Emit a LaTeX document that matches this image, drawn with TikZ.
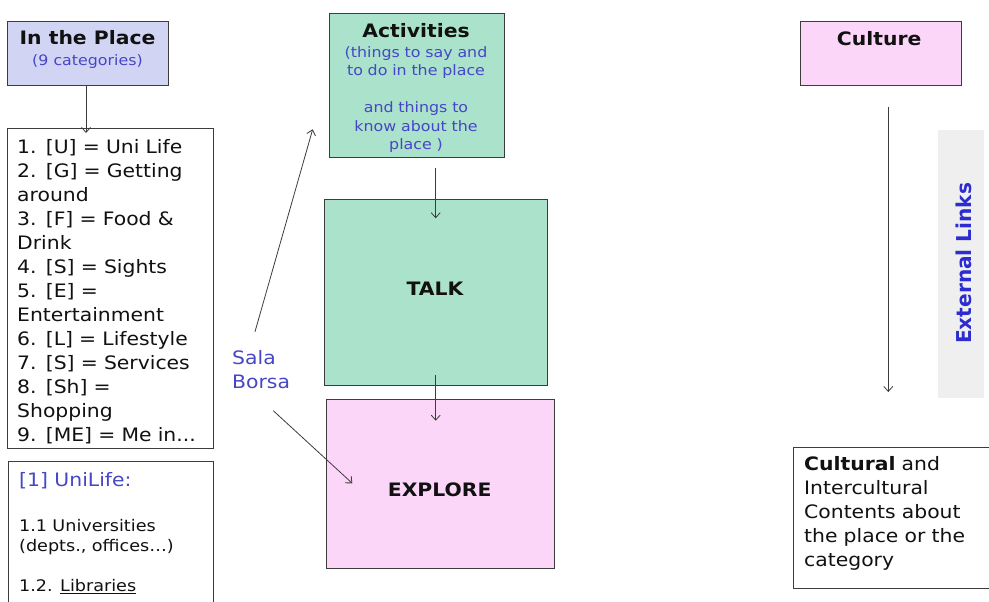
\documentclass[tikz,border=0pt]{standalone}
\usepackage{fontspec}
\setmainfont{DejaVu Sans}[FakeStretch=1.1]
\usetikzlibrary{arrows.meta}

\definecolor{lavfill}{HTML}{D2D4F4}
\definecolor{greenfill}{HTML}{AAE2CB}
\definecolor{pinkfill}{HTML}{FCD6F8}
\definecolor{bandfill}{HTML}{EFEFEF}
\definecolor{edgegray}{HTML}{3C3C3C}
\definecolor{noteblue}{HTML}{4646C6}
\definecolor{linkblue}{HTML}{2C2CD0}
\definecolor{inkblack}{HTML}{111111}

\newcommand\fsmain{\fontsize{18.5}{24.03}\selectfont}
\newcommand\fsnote{\fontsize{14.4}{18.5}\selectfont}
\newcommand\fssub{\fontsize{16}{20}\selectfont}

\tikzset{
  panel/.style={draw=edgegray, line width=1pt, inner sep=0pt, rectangle},
  label/.style={inner sep=0pt, text=inkblack, font=\fsmain},
  title/.style={label, font=\fsmain\bfseries, anchor=base},
  note/.style={inner sep=0pt, text=noteblue, font=\fsnote},
  flow/.style={draw=edgegray, line width=0.8pt, -{Straight Barb[length=5pt,width=9pt]}}
}

\begin{document}
\begin{tikzpicture}[x=1pt, y=-1pt]
\useasboundingbox (0,0) rectangle (989,602);
\clip (0,0) rectangle (989,602);
\fill[white] (0,0) rectangle (989,602);

% ---- left column: places and categories ----
\node[panel, fill=lavfill, minimum width=160.8pt, minimum height=64.3pt] (inplace) at (87.9,53.85) {};
\node[title] (inplacetitle) at (87.5,45) {In the Place};
\node[note, anchor=base] (inplacesub) at (87.5,65.7) {(9 categories)};

\node[panel, fill=white, minimum width=205.5pt, minimum height=320pt] (catlist) at (110.25,288.3) {};
\node[label, anchor=base west, text width=195pt, align=left] (catlisttext) at (17,153.3)
  {1. [U] = Uni Life\\
   2. [G] = Getting\\
   around\\
   3. [F] = Food \&\\
   Drink\\
   4. [S] = Sights\\
   5. [E] =\\
   Entertainment\\
   6. [L] = Lifestyle\\
   7. [S] = Services\\
   8. [Sh] =\\
   Shopping\\
   9. [ME] = Me in...};

\node[panel, fill=white, minimum width=205pt, minimum height=158.3pt] (unilife) at (110.8,540.85) {};
\node[label, text=noteblue, anchor=base west] (unilifehead) at (19,486.7) {[1] UniLife:};
\node[label, font=\fssub, anchor=base west, text width=190pt, align=left] (unilifeunis) at (19,531.7)
  {1.1 Universities\\(depts., offices…)};
\node[label, font=\fssub, anchor=base west] (unilifelibs) at (19,591.7) {1.2. \underline{Libraries}};

% ---- middle column: activities, talk, explore ----
\node[panel, fill=greenfill, minimum width=175.3pt, minimum height=144pt] (activities) at (416.65,85.3) {};
\node[title] (activitiestitle) at (416,37.7) {Activities};
\node[note, anchor=base, text width=170pt, align=center] (activitiesnote) at (416,57.5)
  {(things to say and\\to do in the place\\[18.5pt]and things to\\know about the\\place )};

\node[panel, fill=greenfill, minimum width=223.7pt, minimum height=185.7pt] (talk) at (435.85,292.15) {};
\node[title] (talktitle) at (435,295) {TALK};

\node[panel, fill=pinkfill, minimum width=228.3pt, minimum height=169.4pt] (explore) at (440.15,484) {};
\node[title] (exploretitle) at (439.7,496.7) {EXPLORE};

\node[label, text=noteblue, anchor=base west, text width=70pt, align=left] (salaborsa) at (232,364.5) {Sala\\Borsa};

% ---- right column: culture ----
\node[panel, fill=pinkfill, minimum width=161pt, minimum height=64.3pt] (culture) at (881.2,53.85) {};
\node[title] (culturetitle) at (879.2,45.7) {Culture};

\node[fill=bandfill, inner sep=0pt, minimum width=45.7pt, minimum height=268.3pt] (linkband) at (961.15,264.15) {};
\node[inner sep=0pt, text=linkblue, font=\fontsize{18.3}{22}\bfseries\selectfont, rotate=90, yscale=1.12] (linktext) at (963.5,263.3) {External Links};

\node[panel, fill=white, minimum width=206.7pt, minimum height=140.8pt] (cultural) at (896.65,517.9) {};
\node[label, anchor=base west, text width=180pt, align=left] (culturaltext) at (804,470.5)
  {\textbf{Cultural} and\\Intercultural\\Contents about\\the place or the\\category};

% ---- connector ends ----
\coordinate (listtip) at (86,133);
\coordinate (actout) at (435.7,168.3);
\coordinate (talkin) at (435.7,218.3);
\coordinate (talkout) at (435.7,375);
\coordinate (explorein) at (435.7,420.7);
\coordinate (salaup) at (255,331.7);
\coordinate (actin) at (312.7,129.3);
\coordinate (saladown) at (273.3,410.7);
\coordinate (explorejoin) at (352.3,483.3);
\coordinate (cultureout) at (888.3,106.7);
\coordinate (culturein) at (888.3,392);

% ---- connectors ----
\draw[flow] (inplace.south -| listtip) -- (listtip);
\draw[flow] (actout) -- (talkin);
\draw[flow] (talkout) -- (explorein);
\draw[flow] (salaup) -- (actin);
\draw[flow] (saladown) -- (explorejoin);
\draw[flow] (cultureout) -- (culturein);
\end{tikzpicture}
\end{document}
